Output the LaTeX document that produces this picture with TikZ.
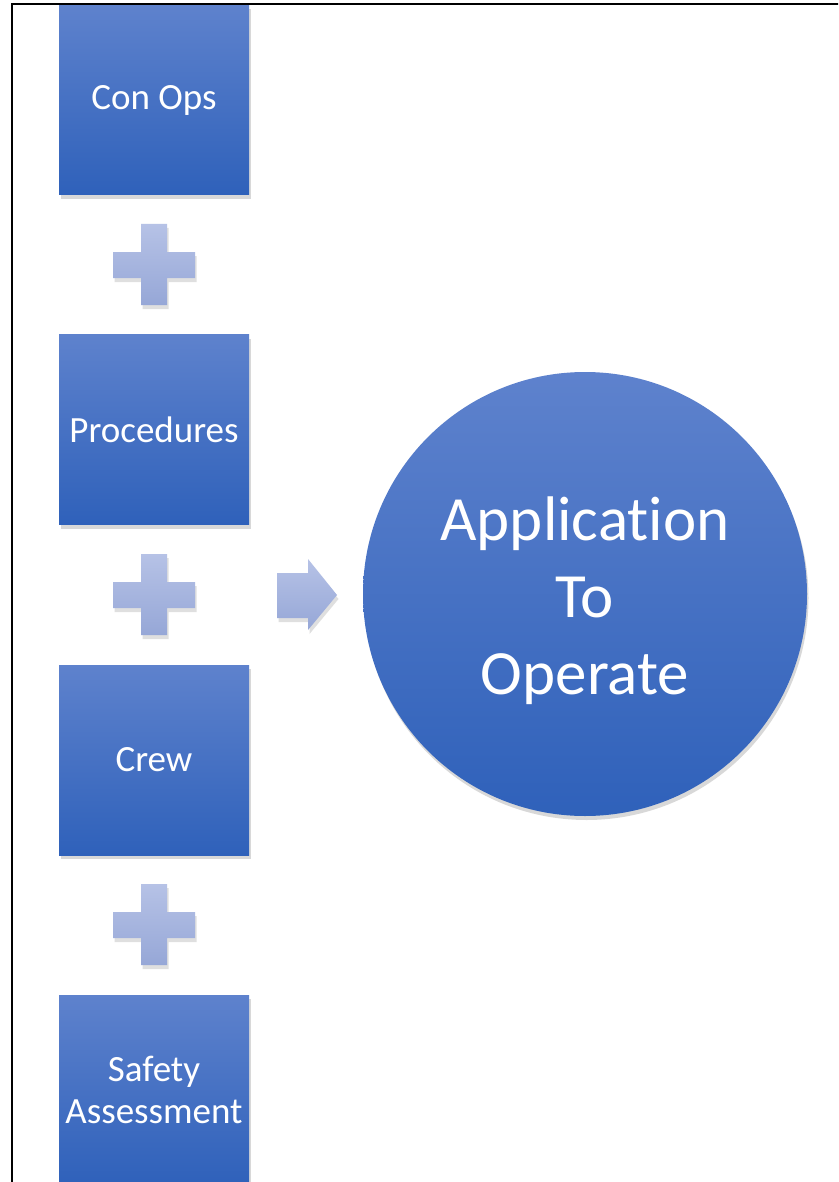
\documentclass[tikz,border=0pt]{standalone}
\usepackage{fontspec}
\setmainfont{Carlito}[Ligatures=NoCommon]
\usetikzlibrary{shadows}
\definecolor{boxtop}{HTML}{5E82CD}
\definecolor{boxbot}{HTML}{2F61BA}
\definecolor{plustop}{HTML}{B6C2E6}
\definecolor{plusbot}{HTML}{96A7D7}

\tikzset{
  stepblock/.style={rectangle, minimum size=190pt, inner sep=2pt,
    top color=boxtop, bottom color=boxbot, text=white, align=center,
    font=\fontsize{37}{42}\selectfont,
    drop shadow={opacity=.3, shadow xshift=1.5pt, shadow yshift=-4pt}},
  goalcircle/.style={circle, minimum size=444pt, inner sep=0pt,
    top color=boxtop, bottom color=boxbot,
    drop shadow={opacity=.3, shadow xshift=1.5pt, shadow yshift=-4pt}},
  goaltext/.style={text=white, align=center, inner sep=0pt,
    font=\fontsize{63}{77}\selectfont},
  plusfill/.style={top color=plustop, bottom color=plusbot,
    drop shadow={opacity=.25, shadow xshift=1.5pt, shadow yshift=-4pt}}
}

\begin{document}
\begin{tikzpicture}[x=1pt,y=-1pt]
  \useasboundingbox (0,0) rectangle (838,1182);
  \clip (0,0) rectangle (838,1182);
  \fill [white] (0,0) rectangle (838,1182);

  % the four inputs
  \node[stepblock] (conops) at (154,100) {Con Ops};
  \node[stepblock] (proc) at (154,429.5) {Procedures};
  \node[stepblock] (crew) at (154,760) {Crew};
  \node[stepblock] (safety) at (154,1090) {Safety\\Assessment};

  % plus signs between them
  \foreach \dy in {0,330,660} {
    \shade [plusfill, yshift=-\dy pt]
      (141,224) -- (167,224) -- (167,252) -- (195,252) -- (195,278)
      -- (167,278) -- (167,305) -- (141,305) -- (141,278) -- (113,278)
      -- (113,252) -- (141,252) -- cycle;
  }

  % arrow to the result
  \shade [plusfill] (277,573) -- (308,573) -- (308,559) -- (337,595)
    -- (308,630) -- (308,618) -- (277,618) -- cycle;

  \node[goalcircle] (ato) at (585,594) {};
  \node[goaltext] (atotext) at (585,601) {Application\\To\\Operate};

  % frame
  \draw [line width=2pt] (12,1190) -- (12,4) -- (850,4);
\end{tikzpicture}
\end{document}
